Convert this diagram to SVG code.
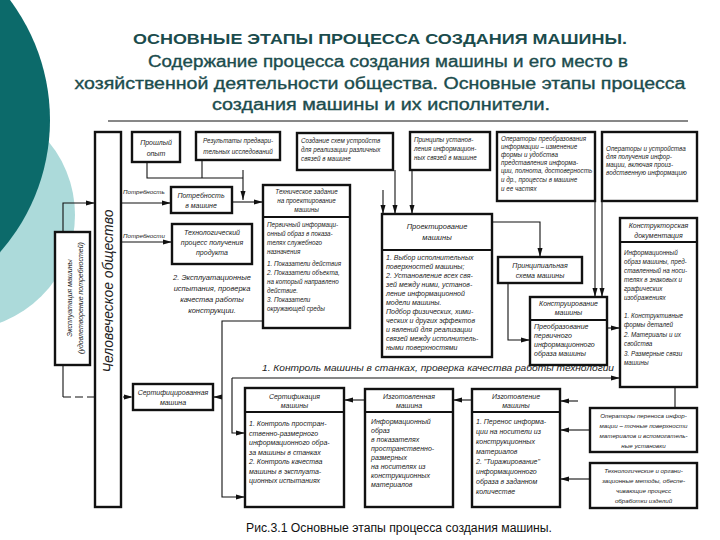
<svg xmlns="http://www.w3.org/2000/svg" width="720" height="540" viewBox="0 0 720 540">
<style>
.box{fill:#fff;stroke:#111;stroke-width:2.4}
.div{fill:none;stroke:#111;stroke-width:2}
.ln{fill:none;stroke:#111;stroke-width:1.1}
.t{font-family:"Liberation Sans","DejaVu Sans",sans-serif;font-style:italic;font-size:7px;fill:#222}
.sm{font-size:6.3px}
.xs{font-size:6.2px}
.md{font-size:7.5px}
.lg{font-size:8.5px}
.xl{font-size:14px}
.c{text-anchor:middle}
.h{font-family:"Liberation Sans","DejaVu Sans",sans-serif;fill:#1b4c4d;text-anchor:middle}
.hs{stroke:#1b4c4d;stroke-width:0.35}
</style>
<defs>
<marker id="a" markerUnits="userSpaceOnUse" markerWidth="9" markerHeight="6" refX="9" refY="3" orient="auto">
<path d="M0,0.5 L9,3 L0,5.5 z" fill="#111"/>
</marker>
</defs>
<rect width="720" height="540" fill="#fff"/>
<circle cx="-40" cy="215" r="115" fill="#acdada"/>
<circle cx="-150" cy="120" r="200" fill="#0c6a6a"/>

<g id="title">
<text class="h" x="380" y="44" font-size="15" font-weight="bold" textLength="494" lengthAdjust="spacingAndGlyphs">ОСНОВНЫЕ ЭТАПЫ ПРОЦЕССА СОЗДАНИЯ МАШИНЫ.</text>
<text class="h hs" x="388" y="67" font-size="16" textLength="480" lengthAdjust="spacingAndGlyphs">Содержание процесса создания машины и его место в</text>
<text class="h hs" x="380" y="89" font-size="16" textLength="611" lengthAdjust="spacingAndGlyphs">хозяйственной деятельности общества. Основные этапы процесса</text>
<text class="h hs" x="381" y="110" font-size="16" textLength="338" lengthAdjust="spacingAndGlyphs">создания машины и их исполнители.</text>
<line x1="108" y1="121" x2="688" y2="121" stroke="#111" stroke-width="1"/>
</g>

<g id="connectors">
<path class="ln" d="M147,162 V178 H243"/>
<path class="ln" d="M202,160 V178"/>
<path class="ln" d="M243,170 V200" marker-end="url(#a)"/>
<path class="ln" d="M232,202 H263" marker-end="url(#a)"/>
<path class="ln" d="M121,203 H171" marker-end="url(#a)"/>
<path class="ln" d="M121,242 H172" marker-end="url(#a)"/>
<path class="ln" d="M63,232 V203 H95" marker-end="url(#a)"/>
<path class="ln" d="M63,365 V397"/>
<path class="ln" d="M63,397 H133" stroke-dasharray="8,4" marker-end="url(#a)"/>
<path class="ln" d="M263,321 H222 V497 H245" marker-end="url(#a)"/>
<path class="ln" d="M222,397 H213" marker-end="url(#a)"/>
<path class="ln" d="M232,378 H620" marker-end="url(#a)"/>
<path class="ln" d="M232,378 V433 H245" marker-end="url(#a)"/>
<path class="ln" d="M365,400 H344" marker-end="url(#a)"/>
<path class="ln" d="M472,400 H453" marker-end="url(#a)"/>
<path class="ln" d="M578,401 H560" marker-end="url(#a)"/>
<path class="ln" d="M590,430 H560" marker-end="url(#a)"/>
<path class="ln" d="M590,479 H560" marker-end="url(#a)"/>
<path class="ln" d="M675,387 V408"/>
<path class="ln" d="M395,170 V214" marker-end="url(#a)"/>
<path class="ln" d="M412,170 V214" marker-end="url(#a)"/>
<path class="ln" d="M383,190 V214" marker-end="url(#a)"/>
<path class="ln" d="M492,222 H540 V257" marker-end="url(#a)"/>
<path class="ln" d="M508,283 V340 H530" marker-end="url(#a)"/>
<path class="ln" d="M595,201 V297" marker-end="url(#a)"/>
<path class="ln" d="M602,201 V297" marker-end="url(#a)"/>
<path class="ln" d="M607,328 H620" marker-end="url(#a)"/>
<text class="t xs" x="123" y="194">Потребность</text>
<text class="t xs" x="123" y="238">Потребности</text>
<text class="t lg" x="262" y="371" textLength="352" lengthAdjust="spacingAndGlyphs">1. Контроль машины в станках, проверка качества работы технологии</text>
</g>

<g id="society">
<rect class="box" x="95" y="132" width="26" height="375"/>
<text class="t xl c" transform="translate(113,291) rotate(-90)">Человеческое общество</text>
</g>

<g id="exploitation">
<rect class="box" x="55" y="232" width="35" height="133"/>
<text class="t c" transform="translate(72,298) rotate(-90)">Эксплуатация машины</text>
<text class="t c" transform="translate(83,298) rotate(-90)">(удовлетворение потребностей)</text>
</g>

<g id="experience">
<rect class="box" x="132" y="132" width="48" height="30"/>
<text class="t c" x="156" y="145">Прошлый</text>
<text class="t c" x="156" y="156">опыт</text>
</g>

<g id="research">
<rect class="box" x="196" y="132" width="84" height="28"/>
<text class="t sm c" x="238" y="143">Результаты предвари-</text>
<text class="t sm c" x="238" y="154">тельных исследований</text>
</g>

<g id="schemes">
<rect class="box" x="297" y="133" width="96" height="37"/>
<text class="t sm" x="301" y="143">Создание схем устройств</text>
<text class="t sm" x="301" y="152">для реализации различных</text>
<text class="t sm" x="301" y="161">связей в машине</text>
</g>

<g id="principles">
<rect class="box" x="410" y="132" width="80" height="38"/>
<text class="t sm" x="414" y="142">Принципы установ-</text>
<text class="t sm" x="414" y="151">ления информацион-</text>
<text class="t sm" x="414" y="160">ных связей в машине</text>
</g>

<g id="transform-ops">
<rect class="box" x="497" y="132" width="98" height="69"/>
<text class="t sm" x="501" y="141">Операторы преобразования</text>
<text class="t sm" x="501" y="149">информации – изменение</text>
<text class="t sm" x="501" y="157">формы и удобства</text>
<text class="t sm" x="501" y="165">представления информа-</text>
<text class="t sm" x="501" y="173">ции, полнота, достоверность</text>
<text class="t sm" x="501" y="182">и др., процессы в машине</text>
<text class="t sm" x="501" y="191">и ее частях</text>
</g>

<g id="devices">
<rect class="box" x="602" y="132" width="95" height="69"/>
<text class="t sm" x="606" y="151">Операторы и устройства</text>
<text class="t sm" x="606" y="159">для получения инфор-</text>
<text class="t sm" x="606" y="167">мации, включая произ-</text>
<text class="t sm" x="606" y="175">водственную информацию</text>
</g>

<g id="need">
<rect class="box" x="171" y="187" width="61" height="26"/>
<text class="t c" x="201" y="198">Потребность</text>
<text class="t c" x="201" y="208">в машине</text>
</g>

<g id="techprocess">
<rect class="box" x="172" y="224" width="80" height="40"/>
<text class="t c" x="212" y="235">Технологический</text>
<text class="t c" x="212" y="245">процесс получения</text>
<text class="t c" x="212" y="255">продукта</text>
</g>

<g id="trials-note">
<text class="t md c" x="212" y="280">2. Эксплуатационные</text>
<text class="t md c" x="212" y="291">испытания, проверка</text>
<text class="t md c" x="212" y="302">качества работы</text>
<text class="t md c" x="212" y="313">конструкции.</text>
</g>

<g id="spec">
<rect class="box" x="263" y="185" width="87" height="143"/>
<line class="div" x1="263" y1="217" x2="350" y2="217"/>
<text class="t sm c" x="306.5" y="194">Техническое задание</text>
<text class="t sm c" x="306.5" y="203">на проектирование</text>
<text class="t sm c" x="306.5" y="212">машины</text>
<text class="t sm" x="267" y="227">Первичный информаци-</text>
<text class="t sm" x="267" y="236">онный образ в показа-</text>
<text class="t sm" x="267" y="245">телях служебного</text>
<text class="t sm" x="267" y="254">назначения</text>
<text class="t sm" x="267" y="266">1. Показатели действия</text>
<text class="t sm" x="267" y="275">2. Показатели объекта,</text>
<text class="t sm" x="267" y="284">на который направлено</text>
<text class="t sm" x="267" y="293">действие.</text>
<text class="t sm" x="267" y="302">3. Показатели</text>
<text class="t sm" x="267" y="311">окружающей среды</text>
</g>

<g id="design">
<rect class="box" x="382" y="214" width="110" height="143"/>
<line class="div" x1="382" y1="250" x2="492" y2="250"/>
<text class="t md c" x="437" y="229">Проектирование</text>
<text class="t md c" x="437" y="240">машины</text>
<text class="t" x="386" y="260">1. Выбор исполнительных</text>
<text class="t" x="386" y="269">поверхностей машины;</text>
<text class="t" x="386" y="278">2. Установление всех свя-</text>
<text class="t" x="386" y="287">зей между ними, установ-</text>
<text class="t" x="386" y="296">ление информационной</text>
<text class="t" x="386" y="305">модели машины.</text>
<text class="t" x="386" y="314">Подбор физических, хими-</text>
<text class="t" x="386" y="323">ческих и других эффектов</text>
<text class="t" x="386" y="332">и явлений для реализации</text>
<text class="t" x="386" y="341">связей между исполнитель-</text>
<text class="t" x="386" y="350">ными поверхностями</text>
</g>

<g id="scheme">
<rect class="box" x="498" y="257" width="84" height="26"/>
<text class="t c" x="540" y="268">Принципиальная</text>
<text class="t c" x="540" y="278">схема машины</text>
</g>

<g id="construction">
<rect class="box" x="530" y="297" width="77" height="68"/>
<line class="div" x1="530" y1="320" x2="607" y2="320"/>
<text class="t c" x="568.5" y="306">Конструирование</text>
<text class="t c" x="568.5" y="315">машины</text>
<text class="t" x="534" y="329">Преобразование</text>
<text class="t" x="534" y="338">первичного</text>
<text class="t" x="534" y="347">информационного</text>
<text class="t" x="534" y="356">образа машины</text>
</g>

<g id="documentation">
<rect class="box" x="620" y="218" width="77" height="169"/>
<line class="div" x1="620" y1="242" x2="697" y2="242"/>
<text class="t c" x="658.5" y="228">Конструкторская</text>
<text class="t c" x="658.5" y="238">документация</text>
<text class="t sm" x="624" y="255">Информационный</text>
<text class="t sm" x="624" y="264">образ машины, пред-</text>
<text class="t sm" x="624" y="273">ставленный на носи-</text>
<text class="t sm" x="624" y="282">телях в знаковых и</text>
<text class="t sm" x="624" y="291">графических</text>
<text class="t sm" x="624" y="300">изображениях</text>
<text class="t sm" x="624" y="318">1. Конструктивные</text>
<text class="t sm" x="624" y="327">формы деталей</text>
<text class="t sm" x="624" y="337">2. Материалы и их</text>
<text class="t sm" x="624" y="346">свойства</text>
<text class="t sm" x="624" y="356">3. Размерные связи</text>
<text class="t sm" x="624" y="365">машины</text>
</g>

<g id="certified">
<rect class="box" x="133" y="384" width="80" height="26"/>
<text class="t c" x="173" y="395">Сертифицированная</text>
<text class="t c" x="173" y="405">машина</text>
</g>

<g id="certification">
<rect class="box" x="245" y="388" width="99" height="119"/>
<line class="div" x1="245" y1="412" x2="344" y2="412"/>
<text class="t c" x="294.5" y="399">Сертификация</text>
<text class="t c" x="294.5" y="408">машины</text>
<text class="t" x="249" y="426">1. Контроль простран-</text>
<text class="t" x="249" y="435.5">ственно-размерного</text>
<text class="t" x="249" y="445">информационного обра-</text>
<text class="t" x="249" y="454.5">за машины в станках</text>
<text class="t" x="249" y="464">2. Контроль качества</text>
<text class="t" x="249" y="473.5">машины в эксплуата-</text>
<text class="t" x="249" y="483">ционных испытаниях</text>
</g>

<g id="manufactured">
<rect class="box" x="365" y="389" width="88" height="118"/>
<line class="div" x1="365" y1="412" x2="453" y2="412"/>
<text class="t c" x="409" y="399">Изготовленная</text>
<text class="t c" x="409" y="408">машина</text>
<text class="t" x="371" y="424">Информационный</text>
<text class="t" x="371" y="433">образ</text>
<text class="t" x="371" y="442">в показателях</text>
<text class="t" x="371" y="451">пространственно-</text>
<text class="t" x="371" y="460">размерных</text>
<text class="t" x="371" y="469">на носителях из</text>
<text class="t" x="371" y="478">конструкционных</text>
<text class="t" x="371" y="487">материалов</text>
</g>

<g id="manufacturing">
<rect class="box" x="472" y="389" width="88" height="118"/>
<line class="div" x1="472" y1="412" x2="560" y2="412"/>
<text class="t c" x="516" y="399">Изготовление</text>
<text class="t c" x="516" y="408">машины</text>
<text class="t" x="476" y="424">1. Перенос информа-</text>
<text class="t" x="476" y="434">ции на носители из</text>
<text class="t" x="476" y="444">конструкционных</text>
<text class="t" x="476" y="454">материалов</text>
<text class="t" x="476" y="464">2. "Тиражирование"</text>
<text class="t" x="476" y="474">информационного</text>
<text class="t" x="476" y="484">образа в заданном</text>
<text class="t" x="476" y="494">количестве</text>
</g>

<g id="transfer-ops">
<rect class="box" x="590" y="408" width="107" height="44"/>
<text class="t xs c" x="643.5" y="418">Операторы переноса инфор-</text>
<text class="t xs c" x="643.5" y="428">мации – точные поверхности</text>
<text class="t xs c" x="643.5" y="438">материалов и вспомогатель-</text>
<text class="t xs c" x="643.5" y="448">ные установки</text>
</g>

<g id="methods">
<rect class="box" x="590" y="463" width="107" height="45"/>
<text class="t xs c" x="643.5" y="473">Технологические и органи-</text>
<text class="t xs c" x="643.5" y="483">зационные методы, обеспе-</text>
<text class="t xs c" x="643.5" y="493">чивающие процесс</text>
<text class="t xs c" x="643.5" y="503">обработки изделий</text>
</g>

<text x="399" y="532" font-family="Liberation Sans, sans-serif" font-size="12.5" fill="#111" text-anchor="middle" textLength="306" lengthAdjust="spacingAndGlyphs">Рис.3.1 Основные этапы процесса создания машины.</text>
</svg>
